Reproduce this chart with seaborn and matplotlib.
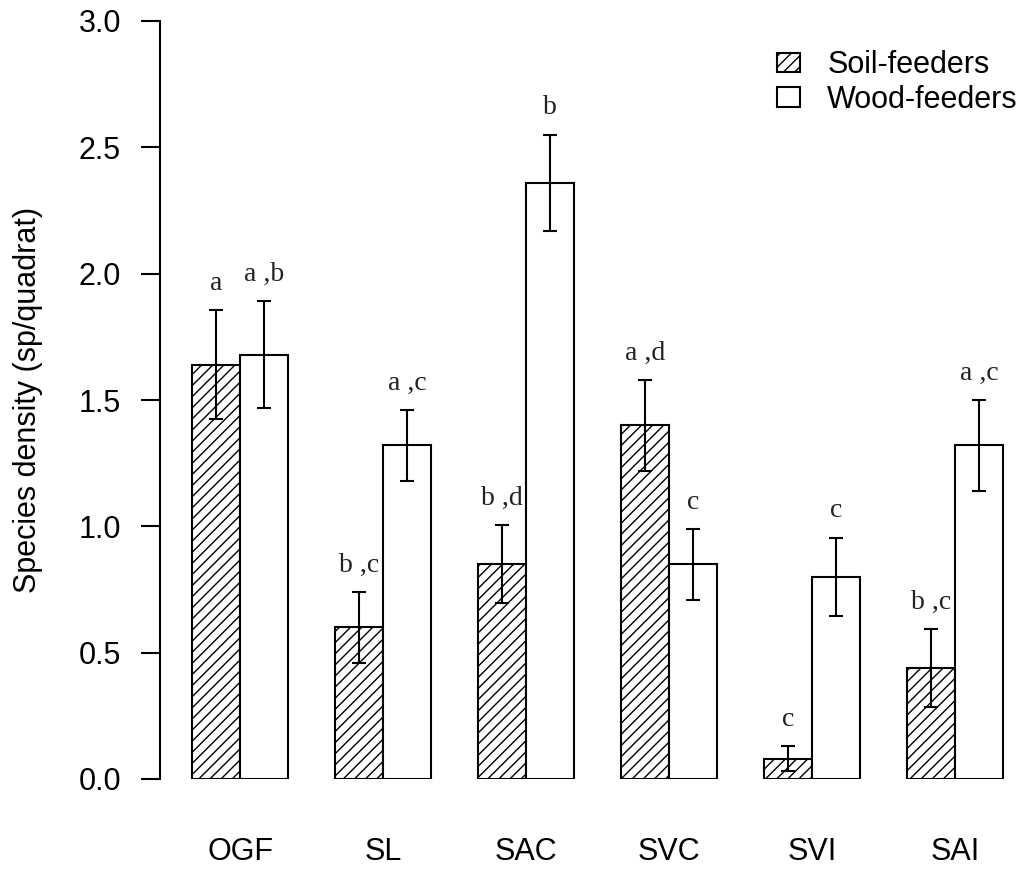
"""Species density of soil- and wood-feeding termites per habitat, bar chart with SE."""

import matplotlib
matplotlib.use("Agg")
import matplotlib.pyplot as plt
import seaborn as sns
import pandas as pd

# data
sites = ["OGF", "SL", "SAC", "SVC", "SVI", "SAI"]
groups = ["Soil-feeders", "Wood-feeders"]
soil_mean = [1.64, 0.60, 0.85, 1.40, 0.08, 0.44]
soil_se = [0.215, 0.14, 0.155, 0.18, 0.05, 0.155]
wood_mean = [1.68, 1.32, 2.36, 0.85, 0.80, 1.32]
wood_se = [0.21, 0.14, 0.19, 0.14, 0.155, 0.18]
soil_letters = ["a", "b ,c", "b ,d", "a ,d", "c", "b ,c"]
wood_letters = ["a ,b", "a ,c", "b", "c", "c", "a ,c"]
y_ticks = [0.0, 0.5, 1.0, 1.5, 2.0, 2.5, 3.0]

sns.set_style("white")
plt.rcParams["font.family"] = ["Liberation Sans", "DejaVu Sans"]
plt.rcParams["hatch.color"] = "#333333"
plt.rcParams["hatch.linewidth"] = 1.0
for key in ["text.color", "axes.labelcolor", "xtick.color", "ytick.color"]:
    plt.rcParams[key] = "black"

df = pd.DataFrame({
    "site": sites * 2,
    "density": soil_mean + wood_mean,
    "group": [groups[0]] * len(sites) + [groups[1]] * len(sites),
})

fig = plt.figure(figsize=(10.24, 8.69), dpi=100)
ax = fig.add_axes([160 / 1024, 90 / 869, 864 / 1024, 758 / 869])

sns.barplot(data=df, x="site", y="density", hue="group", order=sites,
            hue_order=groups, palette={g: "white" for g in groups},
            saturation=1, edgecolor="black", linewidth=1.5, width=0.67,
            gap=0, errorbar=None, legend=False, ax=ax)

# hatching + error bars + letters
for cont, se, letters in zip(ax.containers, [soil_se, wood_se], [soil_letters, wood_letters]):
    for i, bar in enumerate(cont):
        if cont is ax.containers[0]:
            bar.set_hatch("///")
        xc = bar.get_x() + bar.get_width() / 2
        h = bar.get_height()
        ax.errorbar(xc, h, yerr=se[i], color="black", linewidth=1.5,
                    capsize=5, capthick=1.5)
        ax.text(xc, h + se[i] + 0.08, letters[i], ha="center", va="baseline",
                fontsize=20, family="Liberation Serif", color="#222222")

ax.set_xlim(-0.56, 5.48)
ax.set_ylim(0, 3)
ax.set_yticks(y_ticks)
ax.set_yticklabels([f"{t:.1f}" for t in y_ticks])
sns.despine(ax=ax, top=True, right=True, bottom=True)
ax.spines["left"].set_bounds(0, 3)
ax.spines["left"].set_linewidth(1.5)
ax.spines["left"].set_color("black")
ax.tick_params(axis="y", length=14, width=1.5, pad=14, labelsize=22, left=True)
ax.tick_params(axis="x", length=0, pad=42)
for lab in ax.get_xticklabels():
    lab.set_family(["Liberation Sans Narrow", "Liberation Sans"])
    lab.set_fontsize(22)
ax.set_xlabel("")
ax.set_ylabel("Species density (sp/quadrat)", fontsize=22)
ax.yaxis.set_label_coords(-0.135, 0.5)

handles = [ax.containers[0][0], ax.containers[1][0]]
fig.legend(handles, groups, loc="upper right", bbox_to_anchor=(1.0, 1 - 44 / 869),
           frameon=False, fontsize=22, handlelength=0.75, handleheight=0.6,
           handletextpad=0.9, labelspacing=0.15, borderpad=0, borderaxespad=0.2)

plt.savefig("out.png", dpi=100)
plt.close()
